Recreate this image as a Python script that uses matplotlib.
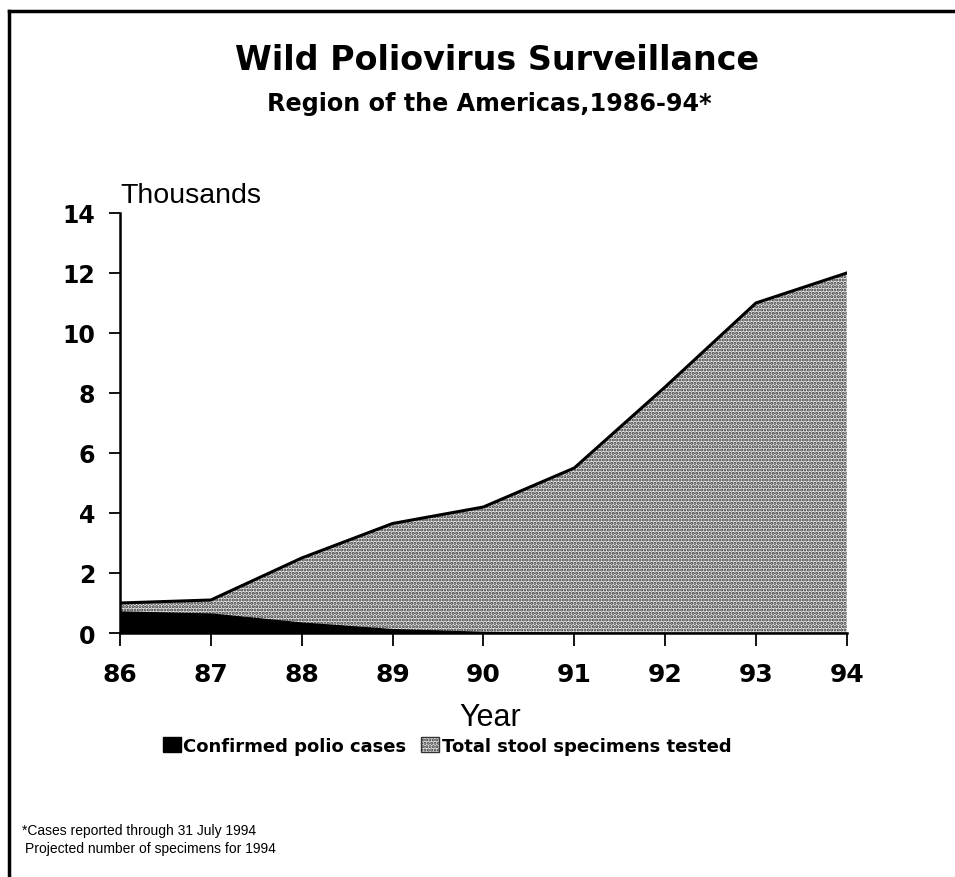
import matplotlib

matplotlib.use("Agg")
import matplotlib.pyplot as plt  # noqa: E402
from matplotlib.lines import Line2D  # noqa: E402
from matplotlib.patches import Patch  # noqa: E402

plt.rcParams["font.family"] = ["Liberation Sans", "DejaVu Sans"]
plt.rcParams["hatch.linewidth"] = 1.5
HEAVY = ["DejaVu Sans"]

years = [86, 87, 88, 89, 90, 91, 92, 93, 94]
year_labels = ["86", "87", "88", "89", "90", "91", "92", "93", "94"]
# thousands
stool_specimens = [1.0, 1.1, 2.5, 3.65, 4.2, 5.5, 8.2, 11.0, 12.0]
polio_cases = [0.72, 0.65, 0.35, 0.13, 0.04, 0.01, 0.0, 0.0, 0.0]

fig = plt.figure(figsize=(9.55, 8.78), dpi=100)
ax = fig.add_axes([0.1257, 0.2779, 0.761, 0.4784])

ax.fill_between(years, 0, stool_specimens, facecolor="#e6e6e6",
                edgecolor="#333333", hatch=".....", linewidth=0)
ax.plot(years, stool_specimens, color="black", lw=2.2)
ax.fill_between(years, 0, polio_cases, facecolor="black", edgecolor="black",
                linewidth=0.8)

ax.set_xlim(86, 94)
ax.set_ylim(0, 14)
ax.set_xticks(years)
ax.set_xticklabels(year_labels, fontsize=18, fontweight="bold", family=HEAVY)
ax.set_yticks(range(0, 15, 2))
ax.tick_params(axis="y", labelsize=17, length=8, width=1.3, pad=10)
ax.tick_params(axis="x", length=9, width=1.3, pad=12)
for lab in ax.get_yticklabels():
    lab.set_fontweight("bold")
    lab.set_family(HEAVY)
for s in ("top", "right"):
    ax.spines[s].set_visible(False)
ax.spines["left"].set_linewidth(1.8)
ax.spines["bottom"].set_linewidth(1.8)

ax.text(0.0, 1.012, "Thousands", transform=ax.transAxes, fontsize=20.5,
        ha="left", va="bottom")

fig.text(0.52, 0.931, "Wild Poliovirus Surveillance", fontsize=24,
         fontweight="bold", family=HEAVY, ha="center", va="center")
fig.text(0.512, 0.881, "Region of the Americas,1986-94*", fontsize=17.2,
         fontweight="bold", family=HEAVY, ha="center", va="center")
fig.text(0.513, 0.182, "Year", fontsize=22, ha="center", va="center")

handles = [Patch(facecolor="black", edgecolor="black"),
           Patch(facecolor="#e6e6e6", edgecolor="#333333", hatch=".....")]
fig.legend(handles, ["Confirmed polio cases", "Total stool specimens tested"],
           loc="center", bbox_to_anchor=(0.468, 0.149), ncol=2, frameon=False,
           prop={"weight": "bold", "size": 13, "family": HEAVY},
           handlelength=1.0, handleheight=0.9, handletextpad=0.15,
           columnspacing=0.8)

fig.text(0.023, 0.054, "*Cases reported through 31 July 1994", fontsize=10,
         ha="left", va="center")
fig.text(0.026, 0.033, "Projected number of specimens for 1994", fontsize=10,
         ha="left", va="center")

# page frame along top and left edge
fig.add_artist(Line2D([0.009, 1.0], [0.986, 0.986], color="black", lw=2.5,
                      transform=fig.transFigure))
fig.add_artist(Line2D([0.009, 0.009], [0.0, 0.986], color="black", lw=2.5,
                      transform=fig.transFigure))

fig.savefig("out.png", dpi=100)
